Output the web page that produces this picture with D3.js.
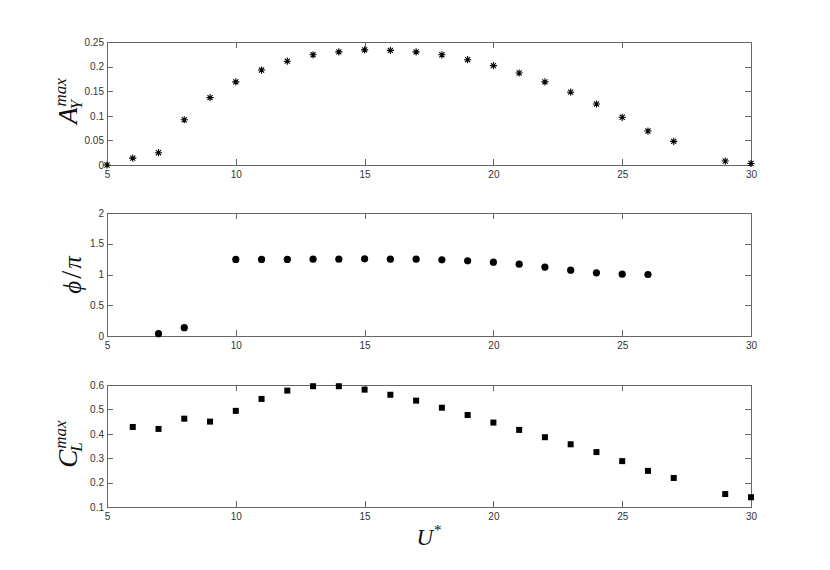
<!DOCTYPE html>
<html>
<head>
<meta charset="utf-8">
<script src="https://cdn.jsdelivr.net/npm/d3@7"></script>
<style>
  body { margin: 0; background: #fff; }
  .axis text { font-family: "Liberation Sans", Arial, sans-serif; font-size: 10px; fill: #333; }
  .axis path, .axis line { stroke: #666; shape-rendering: crispEdges; }
  .lbl { font-family: "Liberation Serif", "Times New Roman", serif; font-style: italic; fill: #111; }
</style>
</head>
<body>
<svg id="chart" width="830" height="570"></svg>
<script>
// shared x values / ticks
const xTicks = [5, 10, 15, 20, 25, 30];

// top panel: A_Y^max
const uA = [5, 6, 7, 8, 9, 10, 11, 12, 13, 14, 15, 16, 17, 18, 19, 20, 21, 22, 23, 24, 25, 26, 27, 29, 30];
const aY = [0.0, 0.014, 0.025, 0.092, 0.137, 0.169, 0.193, 0.211, 0.224, 0.230, 0.234, 0.233, 0.230,
            0.224, 0.214, 0.202, 0.187, 0.169, 0.148, 0.124, 0.097, 0.069, 0.048, 0.008, 0.003];
const aTicks = [0, 0.05, 0.1, 0.15, 0.2, 0.25];

// middle panel: phi / pi
const uPhi = [7, 8, 10, 11, 12, 13, 14, 15, 16, 17, 18, 19, 20, 21, 22, 23, 24, 25, 26];
const phi = [0.038, 0.136, 1.245, 1.245, 1.245, 1.25, 1.25, 1.255, 1.25, 1.25, 1.239, 1.223, 1.201,
             1.168, 1.12, 1.07, 1.027, 1.005, 1.0];
const phiTicks = [0, 0.5, 1, 1.5, 2];

// bottom panel: C_L^max
const uCL = [6, 7, 8, 9, 10, 11, 12, 13, 14, 15, 16, 17, 18, 19, 20, 21, 22, 23, 24, 25, 26, 27, 29, 30];
const cL = [0.428, 0.420, 0.462, 0.450, 0.494, 0.543, 0.577, 0.595, 0.595, 0.581, 0.560, 0.536, 0.507,
            0.477, 0.446, 0.416, 0.386, 0.357, 0.325, 0.288, 0.248, 0.219, 0.153, 0.140];
const clTicks = [0.1, 0.2, 0.3, 0.4, 0.5, 0.6];

let svg = d3.select("#chart");
let left = 107, right = 751;

let x = d3.scaleLinear().domain([5, 30]).range([left, right]);

let panels = [
    {top: 42, bottom: 165, domain: [0, 0.25], ticks: aTicks, xs: uA, ys: aY, marker: "star"},
    {top: 213, bottom: 336, domain: [0, 2], ticks: phiTicks, xs: uPhi, ys: phi, marker: "circle"},
    {top: 385, bottom: 507, domain: [0.1, 0.6], ticks: clTicks, xs: uCL, ys: cL, marker: "square"}
];

// asterisk made of + and x
function starPath(r) {
    let d = r * Math.SQRT1_2;
    return "M0," + (-r) + "V" + r + "M" + (-r) + ",0H" + r +
        "M" + (-d) + "," + (-d) + "L" + d + "," + d + "M" + (-d) + "," + d + "L" + d + "," + (-d);
}

panels.forEach(p => {
    let y = d3.scaleLinear().domain(p.domain).range([p.bottom, p.top]);
    let g = svg.append("g");

    g.append("g").attr("class", "axis")
        .attr("transform", "translate(" + left + ",0)")
        .call(d3.axisLeft(y).tickValues(p.ticks).tickFormat(d => String(d))
            .tickSizeInner(-6).tickSizeOuter(0).tickPadding(3));

    g.append("g").attr("class", "axis")
        .attr("transform", "translate(" + right + ",0)")
        .call(d3.axisRight(y).tickValues(p.ticks).tickFormat("")
            .tickSizeInner(-6).tickSizeOuter(0));

    g.append("g").attr("class", "axis")
        .attr("transform", "translate(0," + p.bottom + ")")
        .call(d3.axisBottom(x).tickValues(xTicks).tickFormat(d => String(d))
            .tickSizeInner(-6).tickSizeOuter(0).tickPadding(6));

    g.append("g").attr("class", "axis")
        .attr("transform", "translate(0," + p.top + ")")
        .call(d3.axisTop(x).tickValues(xTicks).tickFormat("")
            .tickSizeInner(-6).tickSizeOuter(0));

    let pts = p.xs.map((u, i) => ({u: u, v: p.ys[i]}));
    let marks = g.append("g").selectAll("g").data(pts).enter().append("g")
        .attr("transform", d => "translate(" + x(d.u) + "," + y(d.v) + ")");

    if (p.marker === "star") {
        marks.append("path").attr("d", starPath(3.6))
            .attr("stroke", "#000").attr("stroke-width", 1.1).attr("fill", "none");
    } else if (p.marker === "circle") {
        marks.append("circle").attr("r", 3.6).attr("fill", "#000");
    } else {
        marks.append("rect").attr("x", -3).attr("y", -3).attr("width", 6).attr("height", 6).attr("fill", "#000");
    }
});

// y labels (math style)
function mathLabel(cx, cy, base, sup, sub) {
    let g = svg.append("g").attr("transform", "translate(" + cx + "," + cy + ") rotate(-90)");
    let t = g.append("text").attr("class", "lbl").attr("font-size", 27).text(base);
    let w = t.node().getComputedTextLength();
    let s1 = g.append("text").attr("class", "lbl").attr("font-size", 17)
        .attr("x", w + 1).attr("y", -11).text(sup);
    let s2 = g.append("text").attr("class", "lbl").attr("font-size", 17)
        .attr("x", w - 2).attr("y", 5).text(sub);
    let total = w + 1 + Math.max(s1.node().getComputedTextLength(), s2.node().getComputedTextLength());
    g.selectAll("text").attr("transform", "translate(" + (-total / 2) + ",0)");
}

mathLabel(77, 101, "A", "max", "Y");
mathLabel(77, 444, "C", "max", "L");

let phiG = svg.append("g").attr("transform", "translate(81,275) rotate(-90)");
let phiT = phiG.append("text").attr("class", "lbl").attr("font-size", 25).attr("text-anchor", "middle");
phiT.append("tspan").text("\u03D5");
phiT.append("tspan").attr("font-style", "normal").attr("font-size", 29).attr("dx", 2).text("/");
phiT.append("tspan").attr("dx", 2).text("\u03C0");

let uT = svg.append("text").attr("class", "lbl").attr("font-size", 23)
    .attr("x", 429).attr("y", 545).attr("text-anchor", "middle");
uT.append("tspan").text("U");
uT.append("tspan").attr("font-style", "normal").attr("font-size", 15).attr("dx", 1).attr("dy", -10).text("*");
</script>
</body>
</html>
